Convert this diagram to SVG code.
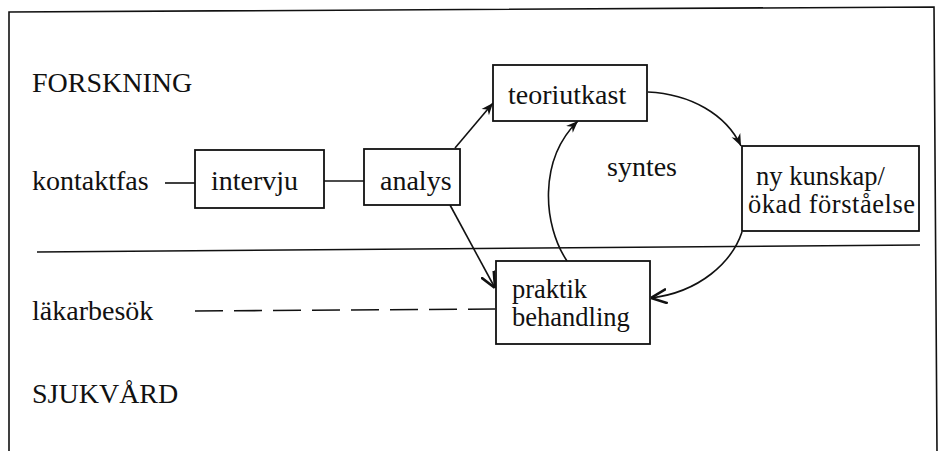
<svg xmlns="http://www.w3.org/2000/svg" width="939" height="451" viewBox="0 0 939 451">
<defs>
<style>
.t{font-family:"Liberation Serif","Times New Roman",serif;font-size:28px;fill:#111}
.t2{font-family:"Liberation Serif","Times New Roman",serif;font-size:26.5px;fill:#111}
.box{fill:#fff;stroke:#111;stroke-width:1.8}
.ln{fill:none;stroke:#111;stroke-width:1.6}
</style>
<marker id="ah" viewBox="0 0 10 10" refX="10" refY="5" markerWidth="12" markerHeight="12" markerUnits="userSpaceOnUse" orient="auto"><path d="M0,1 L10,5 L0,9 L3,5 Z" fill="#111"/></marker>
<marker id="av" viewBox="0 0 10 10" refX="10" refY="5" markerWidth="16" markerHeight="16" markerUnits="userSpaceOnUse" orient="auto"><path d="M0,0.5 L10,5 L0,9.5" fill="none" stroke="#111" stroke-width="1.6"/></marker>
</defs>
<rect width="939" height="451" fill="#fff"/>
<g id="frame">
<path d="M9,451 L9,12 L934,7 L937,451" class="ln"/>
<path d="M37,252 L920,245" class="ln"/>
</g>
<g id="labels">
<text class="t" x="32" y="92">FORSKNING</text>
<text class="t" x="32" y="190">kontaktfas</text>
<text class="t" x="32" y="320">läkarbesök</text>
<text class="t" x="32" y="403">SJUKVÅRD</text>
<text class="t" x="607" y="176">syntes</text>
</g>
<g id="connectors">
<path class="ln" d="M165,183 L195,183"/>
<path class="ln" d="M324,181 L364,181" stroke-width="2"/>
<path class="ln" d="M455,148 L493,103" marker-end="url(#ah)"/>
<path class="ln" d="M450,205 L495,288" marker-end="url(#av)"/>
<path class="ln" d="M567,261 C543,225 538,160 578,121" marker-end="url(#ah)"/>
<path class="ln" d="M648,92 C690,94 726,114 741,146" marker-end="url(#ah)"/>
<path class="ln" d="M742,232 C732,262 700,292 651,298" stroke-width="2.5" marker-end="url(#av)"/>
<path class="ln" d="M195,311 L495,309" stroke-dasharray="28 11"/>
</g>
<g id="intervju">
<rect class="box" x="195" y="150" width="129" height="58"/>
<text class="t" x="211" y="190">intervju</text>
</g>
<g id="analys">
<rect class="box" x="364" y="149" width="96" height="56"/>
<text class="t" x="380" y="190">analys</text>
</g>
<g id="teoriutkast">
<rect class="box" x="493" y="65" width="154" height="56"/>
<text class="t" x="508" y="104">teoriutkast</text>
</g>
<g id="nykunskap">
<rect class="box" x="742" y="146" width="177" height="85"/>
<text class="t2" x="756" y="185">ny kunskap/</text>
<text class="t2" x="748" y="213" textLength="167" lengthAdjust="spacing">ökad förståelse</text>
</g>
<g id="praktik">
<rect class="box" x="496" y="261" width="154" height="83"/>
<text class="t2" x="512" y="298">praktik</text>
<text class="t2" x="512" y="326">behandling</text>
</g>
</svg>
